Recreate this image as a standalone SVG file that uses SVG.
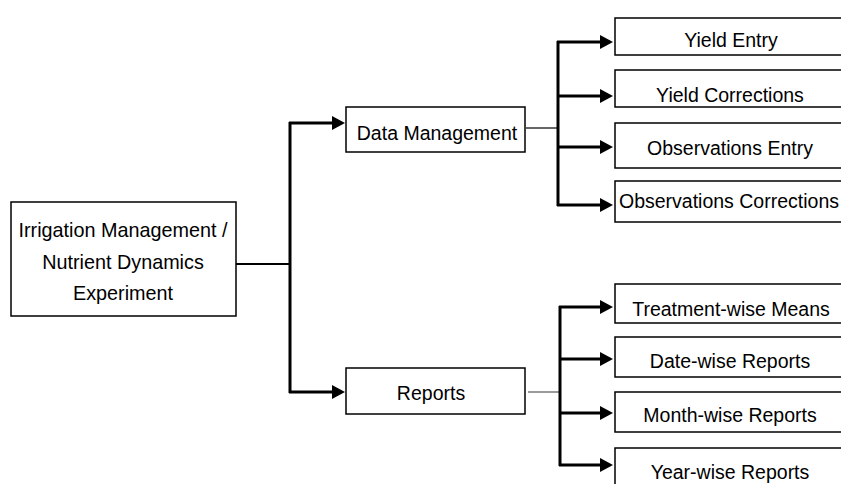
<svg xmlns="http://www.w3.org/2000/svg" width="841" height="484" viewBox="0 0 841 484">
<style>
.box{fill:#fff;stroke:#000;stroke-width:1.5}
.t{font-family:"Liberation Sans",Arial,sans-serif;font-size:19.5px;fill:#000;text-anchor:middle}
.r{font-size:19.8px}
.c{fill:none;stroke:#000;stroke-width:3}
.a{fill:none;stroke:#000;stroke-width:3;marker-end:url(#ah)}
</style>
<defs>
<marker id="ah" markerWidth="13" markerHeight="14" refX="3" refY="7" orient="auto" markerUnits="userSpaceOnUse">
<path d="M0,0 L13,7 L0,14 z" fill="#000"/>
</marker>
</defs>
<rect width="841" height="484" fill="#fff"/>
<g id="connectors">
<line x1="236" y1="264" x2="290" y2="264" stroke="#000" stroke-width="2"/>
<line class="c" x1="290" y1="122" x2="290" y2="393"/>
<line class="a" x1="289" y1="123" x2="335" y2="123"/>
<line class="a" x1="289" y1="392" x2="335" y2="392"/>
<line x1="526" y1="128" x2="558" y2="128" stroke="#000" stroke-width="1.2"/>
<line class="c" x1="558" y1="41" x2="558" y2="206"/>
<line class="a" x1="557" y1="42" x2="603" y2="42"/>
<line class="a" x1="557" y1="96" x2="603" y2="96"/>
<line class="a" x1="557" y1="147" x2="603" y2="147" stroke-width="5"/>
<line class="a" x1="557" y1="205" x2="603" y2="205"/>
<line x1="528" y1="392" x2="560" y2="392" stroke="#777" stroke-width="1.5"/>
<line class="c" x1="560" y1="306" x2="560" y2="466"/>
<line class="a" x1="559" y1="307" x2="603" y2="307"/>
<line class="a" x1="559" y1="359" x2="603" y2="359"/>
<line class="a" x1="559" y1="413" x2="603" y2="413"/>
<line class="a" x1="559" y1="465" x2="603" y2="465"/>
</g>
<g id="root">
<rect class="box" x="11" y="202" width="225" height="114"/>
<text class="t r" x="123" y="237">Irrigation Management /</text>
<text class="t r" x="123" y="269">Nutrient Dynamics</text>
<text class="t r" x="123" y="300">Experiment</text>
</g>
<g id="data-management">
<rect class="box" x="346" y="107" width="179" height="45"/>
<text class="t" x="437" y="140">Data Management</text>
</g>
<g id="reports">
<rect class="box" x="346" y="368" width="179" height="46"/>
<text class="t" x="431" y="400">Reports</text>
</g>
<g id="yield-entry">
<rect class="box" x="615" y="18" width="240" height="37"/>
<text class="t" x="731" y="47">Yield Entry</text>
</g>
<g id="yield-corrections">
<rect class="box" x="615" y="70" width="240" height="37"/>
<text class="t" x="730" y="102">Yield Corrections</text>
</g>
<g id="observations-entry">
<rect class="box" x="615" y="123" width="240" height="45"/>
<text class="t" x="730" y="155">Observations Entry</text>
</g>
<g id="observations-corrections">
<rect class="box" x="615" y="181" width="240" height="41"/>
<text class="t" x="729" y="208">Observations Corrections</text>
</g>
<g id="treatment-wise-means">
<rect class="box" x="615" y="284" width="240" height="39"/>
<text class="t" x="731" y="316">Treatment-wise Means</text>
</g>
<g id="date-wise-reports">
<rect class="box" x="615" y="337" width="240" height="40"/>
<text class="t" x="730" y="368">Date-wise Reports</text>
</g>
<g id="month-wise-reports">
<rect class="box" x="615" y="392" width="240" height="40"/>
<text class="t" x="730" y="422">Month-wise Reports</text>
</g>
<g id="year-wise-reports">
<rect class="box" x="615" y="448" width="240" height="50"/>
<text class="t" x="730" y="479">Year-wise Reports</text>
</g>
</svg>
